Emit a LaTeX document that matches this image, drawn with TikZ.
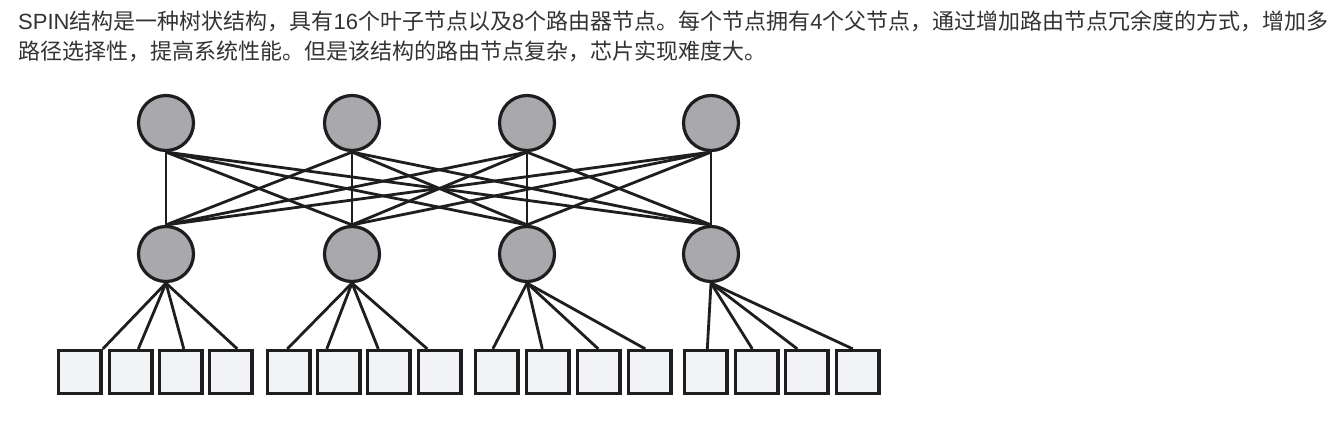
\documentclass[tikz,border=0pt]{standalone}
\usepackage{fontspec}
\newfontfamily\cjk{Noto Sans CJK SC}
\newfontfamily\lat{Liberation Sans}
\definecolor{edgecol}{HTML}{1E1E1E}
\definecolor{routerfill}{HTML}{A9A9AD}
\definecolor{leaffill}{HTML}{F1F3F6}
\definecolor{textcol}{HTML}{333333}
\begin{document}
\begin{tikzpicture}[x=1pt,y=-1pt,
  router/.style={circle, draw=edgecol, line width=3.2pt, fill=routerfill, minimum size=55pt, inner sep=0pt},
  leaf/.style={rectangle, draw=edgecol, line width=3.2pt, fill=leaffill, minimum width=42.5pt, minimum height=43pt, inner sep=0pt},
  link/.style={draw=edgecol, line width=2.8pt},
  txt/.style={anchor=base west, inner sep=0pt, text=textcol, font=\cjk\fontsize{22}{30}\selectfont}]
\useasboundingbox (0,0) rectangle (1327,425);
\fill[white] (0,0) rectangle (1327,425);

\node[txt] (t1) at (18,29.5) {{\lat SPIN}结构是一种树状结构，具有{\lat 16}个叶子节点以及{\lat 8}个路由器节点。每个节点拥有{\lat 4}个父节点，通过增加路由节点冗余度的方式，增加多};
\node[txt] (t2) at (18,59.5) {路径选择性，提高系统性能。但是该结构的路由节点复杂，芯片实现难度大。};

% routers
\foreach \i/\x in {1/166,2/352,3/527,4/711} {
  \node[router] (top\i) at (\x,123) {};
  \node[router] (mid\i) at (\x,254) {};
}

% leaves
\foreach \i/\x in {1/79.8,2/130.8,3/180.8,4/230.8,5/288.8,6/338.8,7/388.8,8/439.8,9/496.8,10/547.8,11/598.8,12/649.8,13/705.8,14/756.8,15/806.8,16/857.8} {
  \node[leaf] (leaf\i) at (\x,372) {};
}

% router-router links
\foreach \a in {1,2,3,4} {
  \foreach \b in {1,2,3,4} {
    \draw[link] (top\a.south) -- (mid\b.north);
  }
}

% router-leaf links
\foreach \m/\l/\dx in {1/1/23,1/2/7.5,1/3/3,1/4/6.5,
                       2/5/-1.5,2/6/-12,2/7/-10.5,2/8/-12.5,
                       3/9/-4,3/10/-5.5,3/11/-0.5,3/12/-4.5,
                       4/13/1.5,4/14/-4.5,4/15/-9.5,4/16/-5} {
  \draw[link] (mid\m.south) -- ([xshift=\dx pt]leaf\l.north);
}
\end{tikzpicture}
\end{document}
